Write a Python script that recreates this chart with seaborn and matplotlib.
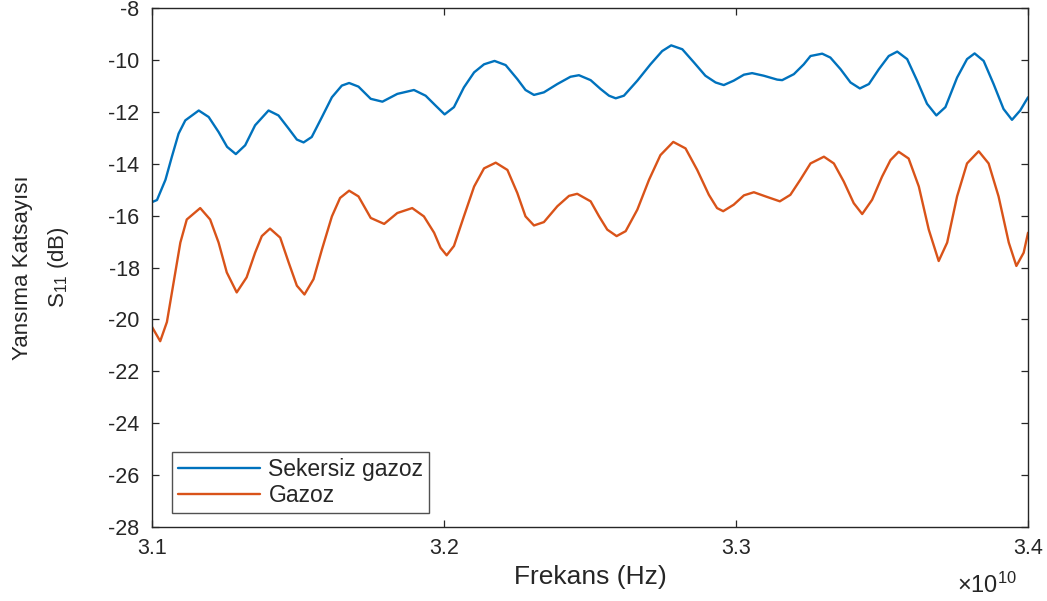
import numpy as np
import pandas as pd
import matplotlib
matplotlib.use("Agg")
import matplotlib.pyplot as plt
import seaborn as sns
from matplotlib.ticker import FuncFormatter, MultipleLocator

# Frequencies in GHz, S11 in dB
sekersiz_f = [
    31.000, 31.017, 31.046, 31.068, 31.091, 31.114, 31.160, 31.194, 31.228, 31.257,
    31.287, 31.319, 31.353, 31.399, 31.433, 31.468, 31.496, 31.519, 31.547, 31.582,
    31.616, 31.650, 31.675, 31.707,
    31.749, 31.789, 31.840, 31.897, 31.937, 31.971, 32.002, 32.034, 32.068, 32.103,
    32.137, 32.173, 32.211, 32.251, 32.279, 32.308, 32.342, 32.388, 32.433, 32.462,
    32.502, 32.536, 32.565, 32.588, 32.616, 32.662, 32.707, 32.747, 32.778, 32.816,
    32.856, 32.895, 32.930, 32.958, 32.992, 33.027, 33.055, 33.095, 33.141, 33.158,
    33.198, 33.232,
    33.255, 33.295, 33.323, 33.358, 33.392, 33.424, 33.455, 33.489, 33.523, 33.552,
    33.586, 33.620, 33.654, 33.686, 33.717, 33.757, 33.791, 33.817, 33.848, 33.882,
    33.916, 33.945, 33.973, 34.000,
]
sekersiz_db = [
    -15.48, -15.40, -14.62, -13.73, -12.84, -12.33, -11.95, -12.20, -12.78, -13.35,
    -13.63, -13.29, -12.52, -11.95, -12.14, -12.65, -13.07, -13.18, -12.97, -12.20,
    -11.44, -10.99, -10.89, -11.03,
    -11.50, -11.61, -11.31, -11.16, -11.38, -11.76, -12.10, -11.82, -11.06, -10.48,
    -10.17, -10.04, -10.20, -10.74, -11.16, -11.35, -11.25, -10.93, -10.65, -10.59,
    -10.78, -11.12, -11.38, -11.48, -11.38, -10.80, -10.17, -9.66, -9.44, -9.59,
    -10.10, -10.61, -10.87, -10.97, -10.80, -10.57, -10.51, -10.61, -10.76, -10.78,
    -10.55, -10.17,
    -9.85, -9.76, -9.91, -10.36, -10.87, -11.10, -10.93, -10.36, -9.85, -9.68,
    -9.97, -10.80, -11.69, -12.14, -11.82, -10.68, -9.97, -9.75, -10.04, -10.93,
    -11.89, -12.31, -11.95, -11.44,
]

gazoz_f = [
    31.000, 31.028, 31.051, 31.074, 31.097, 31.119, 31.165, 31.199, 31.228, 31.256,
    31.290, 31.324, 31.353, 31.376, 31.404, 31.439, 31.468, 31.496, 31.522, 31.553,
    31.582, 31.616, 31.644, 31.675, 31.707,
    31.749, 31.795, 31.840, 31.891, 31.931, 31.966, 31.988, 32.009, 32.034, 32.068,
    32.103, 32.137, 32.177, 32.217, 32.251, 32.279, 32.308, 32.342, 32.388, 32.428,
    32.456,
    32.502, 32.531, 32.559, 32.591, 32.622, 32.662, 32.702, 32.741, 32.785, 32.827,
    32.867, 32.907, 32.935, 32.956, 32.992, 33.027, 33.061, 33.101, 33.150, 33.186,
    33.220,
    33.255, 33.301, 33.335, 33.369, 33.403, 33.432, 33.466, 33.500, 33.529, 33.557,
    33.591, 33.626, 33.660, 33.694, 33.723, 33.757, 33.791, 33.831, 33.865, 33.899,
    33.934, 33.960, 33.985, 34.000,
]
gazoz_db = [
    -20.29, -20.84, -20.10, -18.57, -17.04, -16.15, -15.71, -16.15, -17.04, -18.19,
    -18.96, -18.38, -17.43, -16.79, -16.50, -16.85, -17.81, -18.70, -19.04, -18.45,
    -17.30, -16.03, -15.32, -15.04, -15.26,
    -16.09, -16.32, -15.90, -15.71, -16.03, -16.66, -17.24, -17.53, -17.17, -16.03,
    -14.88, -14.18, -13.96, -14.24, -15.13, -16.03, -16.38, -16.25, -15.64, -15.24,
    -15.16,
    -15.45, -16.03, -16.54, -16.79, -16.60, -15.77, -14.62, -13.67, -13.16, -13.41,
    -14.24, -15.20, -15.71, -15.83, -15.58, -15.22, -15.10, -15.26, -15.45, -15.20,
    -14.62,
    -13.99, -13.73, -13.99, -14.69, -15.52, -15.94, -15.39, -14.50, -13.86, -13.54,
    -13.80, -14.88, -16.54, -17.75, -17.04, -15.26, -13.99, -13.52, -13.99, -15.26,
    -17.04, -17.94, -17.43, -16.66,
]

labels = ["Sekersiz gazoz", "Gazoz"]
colors = ["#0072BD", "#D95319"]

df = pd.concat([
    pd.DataFrame({"Frekans": np.array(sekersiz_f) * 1e9, "S11": sekersiz_db, "Numune": labels[0]}),
    pd.DataFrame({"Frekans": np.array(gazoz_f) * 1e9, "S11": gazoz_db, "Numune": labels[1]}),
])

sns.set_theme(style="ticks")
plt.rcParams["font.family"] = ["Liberation Sans", "DejaVu Sans"]
plt.rcParams["mathtext.default"] = "regular"

fig = plt.figure(figsize=(10.47, 6.01), dpi=100)
ax = fig.add_axes([0.1452, 0.1231, 0.8367, 0.8636])

sns.lineplot(data=df, x="Frekans", y="S11", hue="Numune", hue_order=labels,
             palette=colors, estimator=None, sort=False, linewidth=1.7, ax=ax)

ax.set_xlim(3.1e10, 3.4e10)
ax.set_ylim(-28, -8)
ax.xaxis.set_major_locator(MultipleLocator(0.1e10))
ax.yaxis.set_major_locator(MultipleLocator(2))
ax.xaxis.set_major_formatter(FuncFormatter(lambda v, p: f"{v / 1e10:.1f}"))
ax.yaxis.set_major_formatter(FuncFormatter(lambda v, p: f"{v:.0f}"))

axis_col = "#262626"
for s in ax.spines.values():
    s.set_visible(True)
    s.set_color(axis_col)
    s.set_linewidth(1.0)
ax.tick_params(direction="in", length=5, width=0.9, colors=axis_col,
               top=True, right=True, labelsize=15.5)
ax.tick_params(axis="x", pad=8)
ax.tick_params(axis="y", pad=9)

ax.set_xlabel("Frekans (Hz)", fontsize=19, color=axis_col, labelpad=4)
ax.set_ylabel("Yansıma Katsayısı\nS$_{11}$ (dB)", fontsize=16, color=axis_col,
              linespacing=1.75)
ax.yaxis.set_label_coords(-0.092, 0.5)

ax.text(0.953, -0.113, r"$\times10^{10}$", transform=ax.transAxes,
        ha="center", va="center", fontsize=17, color=axis_col)

handles, _ = ax.get_legend_handles_labels()
leg = ax.legend(handles=handles, labels=labels, loc="lower left",
                bbox_to_anchor=(0.023, 0.027), borderaxespad=0, fontsize=16.5,
                handlelength=3.6, handletextpad=0.35, borderpad=0.25,
                labelspacing=0.15, frameon=True, fancybox=False)
leg.get_frame().set_edgecolor(axis_col)
leg.get_frame().set_linewidth(1.0)
for t in leg.get_texts():
    t.set_color(axis_col)

fig.savefig("out.png", dpi=100)
